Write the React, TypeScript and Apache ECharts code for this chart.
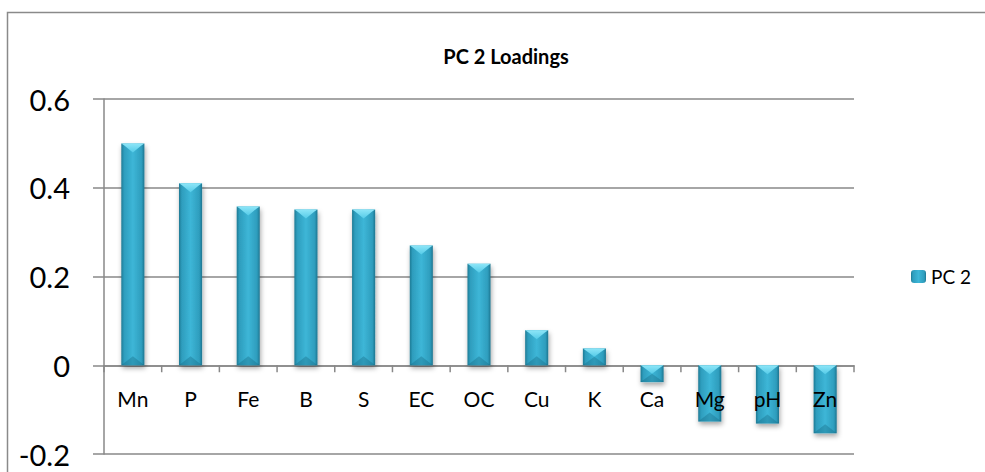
import React, { useEffect, useRef } from "react";
import * as echarts from "echarts";

const categories = ["Mn", "P", "Fe", "B", "S", "EC", "OC", "Cu", "K", "Ca", "Mg", "pH", "Zn"];
const pc2Values = [0.5, 0.41, 0.358, 0.351, 0.351, 0.27, 0.229, 0.079, 0.038, -0.038, -0.127, -0.131, -0.153];
const seriesName = "PC 2";
const chartTitle = "PC 2 Loadings";
const yMin = -0.2;
const yMax = 0.6;
const yStep = 0.2;

const FONT = "Lato, 'Open Sans', sans-serif";

export default function App() {
  const ref = useRef<HTMLDivElement>(null);

  useEffect(() => {
    if (!ref.current) return;
    const chart = echarts.init(ref.current, null, { renderer: "svg" });

    const barGradient = new echarts.graphic.LinearGradient(0, 0, 1, 0, [
      { offset: 0, color: "#1e7a94" },
      { offset: 0.12, color: "#2e9dbd" },
      { offset: 0.5, color: "#3db6d7" },
      { offset: 0.88, color: "#2e9dbd" },
      { offset: 1, color: "#1d7590" },
    ]);

    const bevelData = pc2Values.map((v, i) => [i, v]);
    const labelData = categories.map((_, i) => [i, 0]);

    chart.setOption({
      animation: false,
      backgroundColor: "#ffffff",
      textStyle: { fontFamily: FONT },
      title: {
        text: chartTitle,
        left: 501,
        textAlign: "center",
        top: 41,
        textStyle: { fontFamily: FONT, fontWeight: "bold", fontSize: 20, color: "#000" },
      },
      legend: {
        data: [seriesName],
        left: 906,
        top: 262,
        itemWidth: 15,
        itemHeight: 13,
        itemGap: 6,
        textStyle: { fontFamily: FONT, fontSize: 19, color: "#000" },
      },
      grid: { left: 104, right: 131, top: 99, bottom: 18, containLabel: false, outerBoundsMode: "none" },
      xAxis: {
        type: "category",
        data: categories,
        axisLine: { onZero: true, lineStyle: { color: "#888", width: 1.5 } },
        axisTick: { show: false },
        axisLabel: { show: false },
        splitLine: { show: false },
      },
      yAxis: {
        type: "value",
        min: yMin,
        max: yMax,
        interval: yStep,
        axisLine: { show: true, lineStyle: { color: "#888", width: 1.5 } },
        axisTick: { show: true, length: 11, lineStyle: { color: "#888", width: 1.5 } },
        axisLabel: {
          fontFamily: FONT,
          fontSize: 29,
          color: "#000",
          margin: 34,
          formatter: (v: number) => String(+v.toFixed(1)),
        },
        splitLine: { show: true, lineStyle: { color: "#888", width: 1.5 } },
      },
      graphic: [
        {
          type: "rect",
          shape: { x: 7.5, y: 12.5, width: 1000, height: 500 },
          style: { fill: "none", stroke: "#8a8a8a", lineWidth: 1.5 },
          silent: true,
          z: -10,
        },
      ],
      series: [
        {
          name: seriesName,
          type: "bar",
          data: pc2Values,
          barWidth: "40%",
          itemStyle: {
            color: barGradient,
            shadowBlur: 5,
            shadowColor: "rgba(0,0,0,0.35)",
            shadowOffsetX: 1,
            shadowOffsetY: 3,
          },
          z: 2,
        },
        {
          type: "custom",
          data: bevelData,
          z: 3,
          silent: true,
          renderItem: (params: any, api: any) => {
            const idx = api.value(0);
            const val = api.value(1);
            const p0 = api.coord([idx, 0]);
            const p1 = api.coord([idx, val]);
            const band = api.size([1, 0])[0];
            const bw = band * 0.4;
            const x0 = p0[0] - bw / 2;
            const x1 = p0[0] + bw / 2;
            const cx = p0[0];
            const top = Math.min(p0[1], p1[1]);
            const bottom = Math.max(p0[1], p1[1]);
            const h = bottom - top;
            const bev = Math.min(9, h / 2);
            return {
              type: "group",
              children: [
                {
                  type: "polygon",
                  shape: { points: [[x0, top], [x1, top], [x1 - 3, top + 2], [cx, top + bev], [x0 + 3, top + 2]] },
                  style: {
                    fill: new echarts.graphic.LinearGradient(0, 0, 0, 1, [
                      { offset: 0, color: "#8ee6f8" },
                      { offset: 1, color: "#55cbe8" },
                    ]),
                  },
                },
                {
                  type: "polygon",
                  shape: { points: [[x0, bottom], [x1, bottom], [cx, bottom - bev]] },
                  style: { fill: "rgba(20,100,125,0.35)" },
                },
              ],
            };
          },
        },
        {
          type: "custom",
          data: labelData,
          z: 10,
          silent: true,
          renderItem: (params: any, api: any) => {
            const idx = api.value(0);
            const p = api.coord([idx, 0]);
            const band = api.size([1, 0])[0];
            const children: any[] = [
              {
                type: "line",
                shape: { x1: p[0] - band / 2, y1: p[1], x2: p[0] - band / 2, y2: p[1] + 7 },
                style: { stroke: "#888", lineWidth: 1.5 },
              },
              {
                type: "text",
                style: {
                  text: categories[params.dataIndex],
                  x: p[0],
                  y: p[1] + 33,
                  align: "center",
                  verticalAlign: "middle",
                  fontFamily: FONT,
                  fontSize: 21,
                  fill: "#000",
                },
              },
            ];
            if (params.dataIndex === categories.length - 1) {
              children.push({
                type: "line",
                shape: { x1: p[0] + band / 2, y1: p[1], x2: p[0] + band / 2, y2: p[1] + 7 },
                style: { stroke: "#888", lineWidth: 1.5 },
              });
            }
            return { type: "group", children };
          },
        },
      ],
    });

    return () => chart.dispose();
  }, []);

  return (
    <div
      ref={ref}
      style={{ position: "fixed", left: 0, top: 0, width: 985, height: 472 }}
    />
  );
}
